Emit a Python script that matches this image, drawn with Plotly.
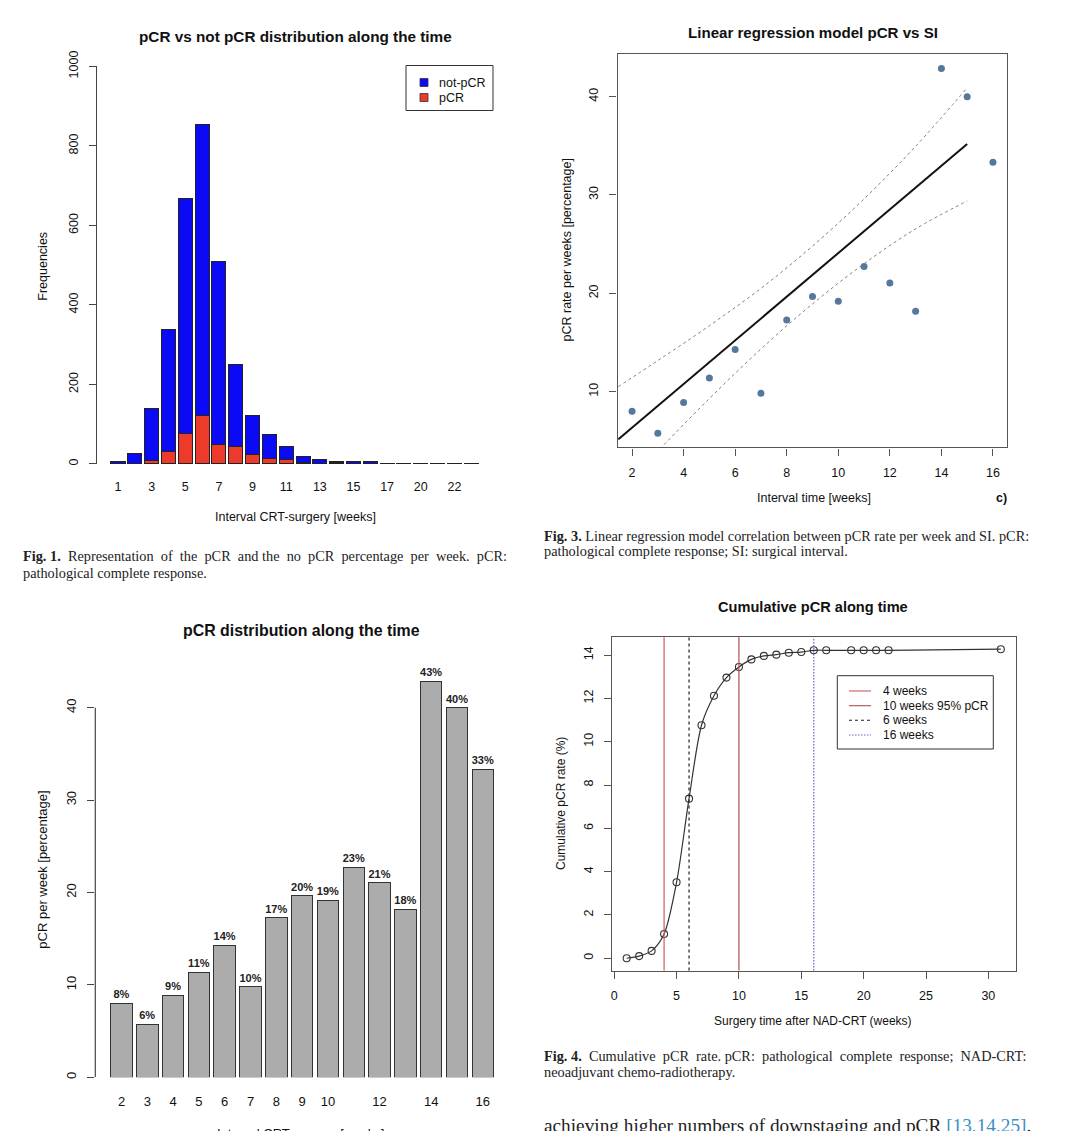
import plotly.graph_objects as go

W, H = 1068, 1131


def fx(p):
    return p / W


def fy(p):
    return 1 - p / H


# ---------------- data ----------------
# Fig. 1 - stacked frequencies per week
hist_weeks = ["1", "2", "3", "4", "5", "6", "7", "8", "9", "10", "11", "12",
              "13", "14", "15", "16", "17", "19", "20", "21", "22", "31"]
hist_pcr = [0, 2, 8, 30, 76, 122, 50, 43, 24, 14, 10, 4, 2, 3, 2, 2, 0, 0, 0, 0, 0, 0]
hist_not_pcr = [6, 23, 131, 307, 592, 732, 459, 206, 98, 59, 34, 15, 9, 4, 3, 4, 2, 1, 1, 1, 1, 1]
hist_tick_labels = ["1", "3", "5", "7", "9", "11", "13", "15", "17", "20", "22"]
hist_y_ticks = [0, 200, 400, 600, 800, 1000]

# Fig. 2/3 - pCR rate per week
rate_weeks = ["2", "3", "4", "5", "6", "7", "8", "9", "10", "11", "12", "13", "14", "15", "16"]
rate_weeks_num = [2, 3, 4, 5, 6, 7, 8, 9, 10, 11, 12, 13, 14, 15, 16]
rate_pct = [8.0, 5.76, 8.9, 11.38, 14.29, 9.82, 17.27, 19.67, 19.18, 22.73, 21.05, 18.18, 42.86, 40.0, 33.33]
rate_bar_labels = ["8%", "6%", "9%", "11%", "14%", "10%", "17%", "20%", "19%", "23%",
                   "21%", "18%", "43%", "40%", "33%"]
rate_tick_labels = ["2", "3", "4", "5", "6", "7", "8", "9", "10", "12", "14", "16"]
rate_y_ticks = [0, 10, 20, 30, 40]

# regression line and confidence band
fit_x = [1.47, 15.0]
fit_y = [5.15, 35.19]
band_x = [1.47, 3, 5, 7, 9, 11, 13, 15]
band_upper = [10.5, 13.15, 16.7, 20.5, 24.8, 29.6, 34.95, 40.9]
band_lower = [-0.2, 3.95, 9.29, 14.33, 18.92, 23.0, 26.55, 29.39]
reg_x_ticks = [2, 4, 6, 8, 10, 12, 14, 16]
reg_y_ticks = [10, 20, 30, 40]

# Fig. 4 - cumulative pCR
cum_weeks = [1, 2, 3, 4, 5, 6, 7, 8, 9, 10, 11, 12, 13, 14, 15, 16, 17, 19, 20, 21, 22, 31]
cum_rate = [0.0, 0.1, 0.34, 1.12, 3.51, 7.37, 10.76, 12.12, 12.96, 13.45, 13.8, 13.96,
            14.02, 14.11, 14.14, 14.22, 14.22, 14.22, 14.22, 14.22, 14.22, 14.27]
ref_weeks = [4, 10, 6, 16]
ref_labels = ["4 weeks", "10 weeks 95% pCR", "6 weeks", "16 weeks"]
ref_colors = ["#cc5a60", "#b04f4d", "#222222", "#6464c0"]
ref_dash = ["solid", "solid", "3px,3px", "1.5px,1.5px"]
cum_x_ticks = [0, 5, 10, 15, 20, 25, 30]
cum_y_ticks = [0, 2, 4, 6, 8, 10, 12, 14]

# ---------------- styles ----------------
SANS = "Liberation Sans, Arial, sans-serif"
SERIF = "Liberation Serif, Times New Roman, serif"
AX = "#444444"
BLUE = "#0a0af5"
RED = "#ec3b2b"
NB = "\u00a0"

fig = go.Figure()

# Panel 1
fig.add_trace(go.Bar(x=hist_weeks, y=hist_pcr, name="pCR", marker=dict(color=RED, line=dict(color="#222", width=1)),
                     xaxis="x", yaxis="y", showlegend=False))
fig.add_trace(go.Bar(x=hist_weeks, y=hist_not_pcr, name="not-pCR", marker=dict(color=BLUE, line=dict(color="#222", width=1)),
                     xaxis="x", yaxis="y", showlegend=False))

# Panel 2
fig.add_trace(go.Scatter(x=band_x, y=band_upper, mode="lines", line=dict(color="#808080", width=1, dash="dot", shape="spline"),
                         xaxis="x2", yaxis="y2", showlegend=False))
fig.add_trace(go.Scatter(x=band_x, y=band_lower, mode="lines", line=dict(color="#808080", width=1, dash="dot", shape="spline"),
                         xaxis="x2", yaxis="y2", showlegend=False))
fig.add_trace(go.Scatter(x=fit_x, y=fit_y, mode="lines", line=dict(color="#111", width=2),
                         xaxis="x2", yaxis="y2", showlegend=False))
fig.add_trace(go.Scatter(x=rate_weeks_num, y=rate_pct, mode="markers", marker=dict(color="#56799b", size=7),
                         xaxis="x2", yaxis="y2", showlegend=False))

# Panel 3
fig.add_trace(go.Bar(x=rate_weeks, y=rate_pct, text=rate_bar_labels, textposition="outside",
                     textfont=dict(family=SANS, size=11, color="#222", weight="bold"),
                     constraintext="none", cliponaxis=False,
                     marker=dict(color="#acacac", line=dict(color="#333", width=1)),
                     xaxis="x3", yaxis="y3", showlegend=False))

# Panel 4
fig.add_trace(go.Scatter(x=cum_weeks, y=cum_rate, mode="lines+markers",
                         line=dict(color="#333", width=1.2, shape="spline", smoothing=0.8),
                         marker=dict(symbol="circle-open", size=7, color="#333", line=dict(width=1.1)),
                         xaxis="x4", yaxis="y4", showlegend=False))

shapes = []
for wk, col, dsh in zip(ref_weeks, ref_colors, ref_dash):
    shapes.append(dict(type="line", xref="x4", yref="y4 domain", x0=wk, x1=wk, y0=0, y1=1,
                       line=dict(color=col, width=1.2, dash=dsh)))

# panel 3 y-axis line (0..40 only)
shapes.append(dict(type="line", xref="x3 domain", yref="y3", x0=0, x1=0, y0=rate_y_ticks[0], y1=rate_y_ticks[-1],
                   line=dict(color=AX, width=1.2)))

# legend panel 1
shapes.append(dict(type="rect", xref="paper", yref="paper", x0=fx(406), x1=fx(493), y0=fy(110.5), y1=fy(65.5),
                   line=dict(color="#333", width=1), fillcolor="white"))
leg1 = [("not-pCR", BLUE, 82.5), ("pCR", RED, 97.5)]
annotations = []
for lab, col, yy in leg1:
    shapes.append(dict(type="rect", xref="paper", yref="paper", x0=fx(420), x1=fx(428), y0=fy(yy + 4), y1=fy(yy - 4),
                       line=dict(color="#333", width=0.8), fillcolor=col))
    annotations.append(dict(text=lab, x=fx(437), y=fy(yy), xref="paper", yref="paper", xanchor="left", yanchor="middle",
                            showarrow=False, font=dict(family=SANS, size=12.5, color="#111")))

# legend panel 4
shapes.append(dict(type="rect", xref="paper", yref="paper", x0=fx(837.3), x1=fx(993.3), y0=fy(749), y1=fy(675.7),
                   line=dict(color="#333", width=1), fillcolor="white"))
leg4_rows = [691, 705.7, 720.3, 735]
for lab, col, dsh, yy in zip(ref_labels, ref_colors, ref_dash, leg4_rows):
    shapes.append(dict(type="line", xref="paper", yref="paper", x0=fx(849), x1=fx(871), y0=fy(yy), y1=fy(yy),
                       line=dict(color=col, width=1.1, dash=dsh)))
    annotations.append(dict(text=lab, x=fx(881), y=fy(yy), xref="paper", yref="paper", xanchor="left", yanchor="middle",
                            showarrow=False, font=dict(family=SANS, size=12, color="#111")))


def add_text(text, px, py, size, bold=False, family=SANS, angle=0, xanchor="center", color="#111"):
    if bold:
        text = "<b>" + text + "</b>"
    annotations.append(dict(text=text, x=fx(px), y=fy(py), xref="paper", yref="paper", xanchor=xanchor,
                            yanchor="middle", showarrow=False, textangle=angle,
                            font=dict(family=family, size=size, color=color)))


def spread(words, extra):
    """join words, adding `extra` non-breaking spaces spread over the gaps (text justification)"""
    gaps = len(words) - 1
    out = words[0]
    for i, w in enumerate(words[1:]):
        n = 1 + (1 if (i * extra) // gaps != ((i + 1) * extra) // gaps else 0)
        out += " " + NB * (n - 1) + w
    return out


# titles
add_text("pCR vs not pCR distribution along the time", 295, 36, 15.3, bold=True)
add_text("Linear regression model pCR vs SI", 813, 33, 15.1, bold=True)
add_text("pCR distribution along the time", 301.5, 630, 15.9, bold=True)
add_text("Cumulative pCR along time", 813, 607, 14.6, bold=True)

# axis titles
add_text("Interval CRT-surgery [weeks]", 295, 517, 12.5)
add_text("Frequencies", 42.7, 266, 12.5, angle=-90)
add_text("Interval time [weeks]", 814, 498.5, 12.5)
add_text("pCR rate per weeks [percentage]", 567, 250.5, 12.5, angle=-90)
add_text("c)", 1001, 498.5, 12.5, bold=True)
add_text("pCR per week [percentage]", 41.7, 870, 13, angle=-90)
add_text("Interval CRT-surgery [weeks]", 300, 1133, 13)
add_text("Cumulative pCR rate (%)", 561, 804, 12, angle=-90)
add_text("Surgery time after NAD-CRT (weeks)", 813, 1021, 12)

# captions
CAP = 14.3
cap1 = spread(["<b>Fig.", "1.</b>", "Representation", "of", "the", "pCR", "and", "the", "no", "pCR",
               "percentage", "per", "week.", "pCR:"], 11)
add_text(cap1, 20.7, 555.7, CAP, family=SERIF, xanchor="left", color="#222")
add_text("pathological complete response.", 20.7, 573, CAP, family=SERIF, xanchor="left", color="#222")
add_text("<b>Fig. 3.</b> Linear regression model correlation between pCR rate per week and SI. pCR:", 542, 535.5, CAP,
         family=SERIF, xanchor="left", color="#222")
add_text("pathological complete response; SI: surgical interval.", 542, 551, CAP, family=SERIF, xanchor="left",
         color="#222")
cap4 = spread(["<b>Fig.", "4.</b>", "Cumulative", "pCR", "rate.", "pCR:", "pathological", "complete", "response;",
               "NAD-CRT:"], 7)
add_text(cap4, 542, 1056, CAP, family=SERIF, xanchor="left", color="#222")
add_text("neoadjuvant chemo-radiotherapy.", 542, 1072, CAP, family=SERIF, xanchor="left", color="#222")
add_text("achieving higher numbers of downstaging and pCR <span style='color:#3b8fc4'>[13,14,25]</span>.",
         542, 1125, 19.3, family=SERIF, xanchor="left", color="#222")

tick_font = dict(family=SANS, size=12.5, color="#111")
box_axis = dict(showline=True, linecolor="#555", linewidth=1.3, mirror=True, ticks="outside", ticklen=7,
                tickcolor="#555", tickwidth=1.2, showgrid=False, zeroline=False, tickfont=tick_font,
                ticklabelstandoff=6, automargin=False)

fig.update_layout(
    width=W, height=H, margin=dict(l=0, r=0, t=0, b=0, autoexpand=False), paper_bgcolor="white",
    plot_bgcolor="white", barmode="stack", bargap=0.1667, showlegend=False,
    xaxis=dict(domain=[fx(96.7), fx(492)], range=[-1.266, 22.236], type="category", tickmode="array",
               tickvals=hist_tick_labels, ticktext=hist_tick_labels, ticks="", showline=False, showgrid=False,
               zeroline=False, tickfont=tick_font, ticklabelstandoff=14, anchor="y", automargin=False),
    yaxis=dict(domain=[fy(463.9), fy(66.4)], range=[0, 1000], tickmode="array", tickvals=hist_y_ticks,
               tickangle=-90, ticks="outside", ticklen=7, tickcolor=AX, tickwidth=1.2, showline=True,
               linecolor=AX, linewidth=1.2, showgrid=False, zeroline=False, tickfont=tick_font,
               ticklabelstandoff=6, anchor="x", automargin=False),
    xaxis2=dict(domain=[fx(617.6), fx(1007.4)], range=[1.44, 16.56], tickmode="array", tickvals=reg_x_ticks,
                anchor="y2", **box_axis),
    yaxis2=dict(domain=[fy(447.4), fy(53.6)], range=[4.32, 44.38], tickmode="array", tickvals=reg_y_ticks,
                tickangle=-90, anchor="x2", **box_axis),
    xaxis3=dict(domain=[fx(95.3), fx(505)], range=[-1.015, 14.859], type="category", tickmode="array",
                tickvals=rate_tick_labels, ticktext=rate_tick_labels, ticks="", showline=False, showgrid=False,
                zeroline=False, tickfont=dict(family=SANS, size=13, color="#111"), ticklabelstandoff=15,
                anchor="y3", automargin=False),
    yaxis3=dict(domain=[fy(1077.3), fy(650)], range=[0, 46.24], tickmode="array", tickvals=rate_y_ticks,
                tickangle=-90, ticks="outside", ticklen=7, tickcolor=AX, tickwidth=1.2, showline=False,
                showgrid=False, zeroline=False, tickfont=dict(family=SANS, size=13, color="#111"),
                ticklabelstandoff=6, anchor="x3", automargin=False),
    xaxis4=dict(domain=[fx(611.7), fx(1015.8)], range=[-0.2, 32.2], tickmode="array", tickvals=cum_x_ticks,
                anchor="y4", **box_axis),
    yaxis4=dict(domain=[fy(970.6), fy(637.3)], range=[-0.57, 14.82], tickmode="array", tickvals=cum_y_ticks,
                tickangle=-90, anchor="x4", **box_axis),
    shapes=shapes, annotations=annotations,
)

fig.write_html("out.html", config={"displayModeBar": False},
               post_script="document.body.style.margin='0';document.body.style.overflow='hidden';")
